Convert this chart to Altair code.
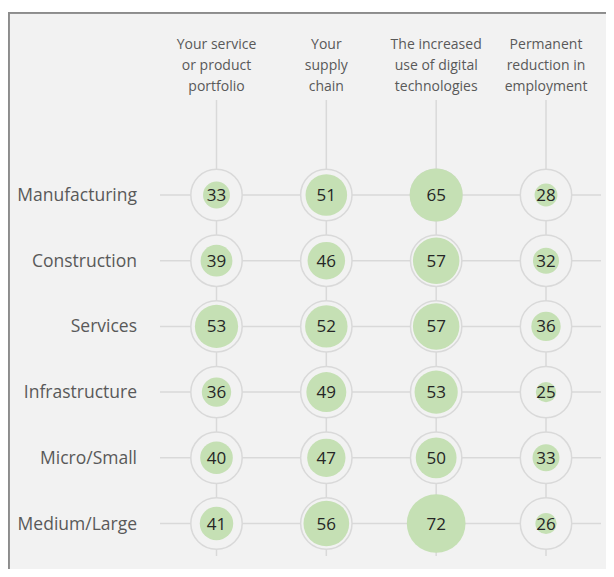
import altair as alt
import pandas as pd

sectors = ["Manufacturing", "Construction", "Services", "Infrastructure", "Micro/Small", "Medium/Large"]
topics = [
    "Your service\nor product\nportfolio",
    "Your\nsupply\nchain",
    "The increased\nuse of digital\ntechnologies",
    "Permanent\nreduction in\nemployment",
]
v_portfolio = [33, 39, 53, 36, 40, 41]
v_supply = [51, 46, 52, 49, 47, 56]
v_digital = [65, 57, 57, 53, 50, 72]
v_employment = [28, 32, 36, 25, 33, 26]

series = [v_portfolio, v_supply, v_digital, v_employment]
rows = []
for t, vals in zip(topics, series):
    for s, v in zip(sectors, vals):
        rows.append({"topic": t, "sector": s, "value": v})
df = pd.DataFrame(rows)
topics_df = pd.DataFrame({"topic": topics})
sectors_df = pd.DataFrame({"sector": sectors})

FONT = "Open Sans"
GRID = "#d9d9d9"
BG = "#f2f2f2"

xs = alt.X("topic:N", sort=topics,
           scale=alt.Scale(type="point", domain=topics, range=[208.5, 538], padding=0), axis=None)
ys = alt.Y("sector:N", sort=sectors,
           scale=alt.Scale(type="point", domain=sectors, range=[183, 511.5], padding=0), axis=None)

border_top = alt.Chart(topics_df).mark_rule(color="#8c8c8c", strokeWidth=1.5).encode(
    x=alt.value(0), x2=alt.value(598), y=alt.value(0.75)
)
border_left = alt.Chart(topics_df).mark_rule(color="#8c8c8c", strokeWidth=1.5).encode(
    x=alt.value(0.75), y=alt.value(0), y2=alt.value(557)
)

hlines = alt.Chart(sectors_df).mark_rule(color=GRID, strokeWidth=1.5).encode(
    y=ys, x=alt.value(152), x2=alt.value(593)
)
vlines = alt.Chart(topics_df).mark_rule(color=GRID, strokeWidth=1.5).encode(
    x=xs, y=alt.value(88), y2=alt.value(544)
)

rings = alt.Chart(df).mark_circle(
    size=2640, fill=BG, stroke=GRID, strokeWidth=1.5, opacity=1
).encode(x=xs, y=ys)

bubbles = alt.Chart(df).mark_circle(color="#c5e0b4", opacity=1).encode(
    x=xs, y=ys,
    size=alt.Size("value:Q", scale=alt.Scale(type="pow", exponent=2, domain=[0, 100], range=[0, 6650]), legend=None),
)

numbers = alt.Chart(df).mark_text(font=FONT, fontSize=17, color="#262626", baseline="middle", dy=1).encode(
    x=xs, y=ys, text="value:Q"
)

headers = alt.Chart(topics_df).mark_text(
    font=FONT, fontSize=14, color="#595959", lineBreak="\n", lineHeight=21, baseline="alphabetic", align="center"
).encode(x=xs, y=alt.value(37), text="topic:N")

row_labels = alt.Chart(sectors_df).mark_text(
    font=FONT, fontSize=17.5, color="#595959", align="right", baseline="middle", dy=1
).encode(y=ys, x=alt.value(129), text="sector:N")

chart = alt.layer(
    border_top, border_left, hlines, vlines, rings, bubbles, numbers, headers, row_labels
).properties(
    width=598, height=557, background="white",
    padding={"top": 4, "left": 0, "right": 0, "bottom": 0},
    autosize=alt.AutoSizeParams(type="none"),
).configure_view(fill=BG, stroke="transparent")

chart.save("out.html", embed_options={"renderer": "svg", "actions": False})
